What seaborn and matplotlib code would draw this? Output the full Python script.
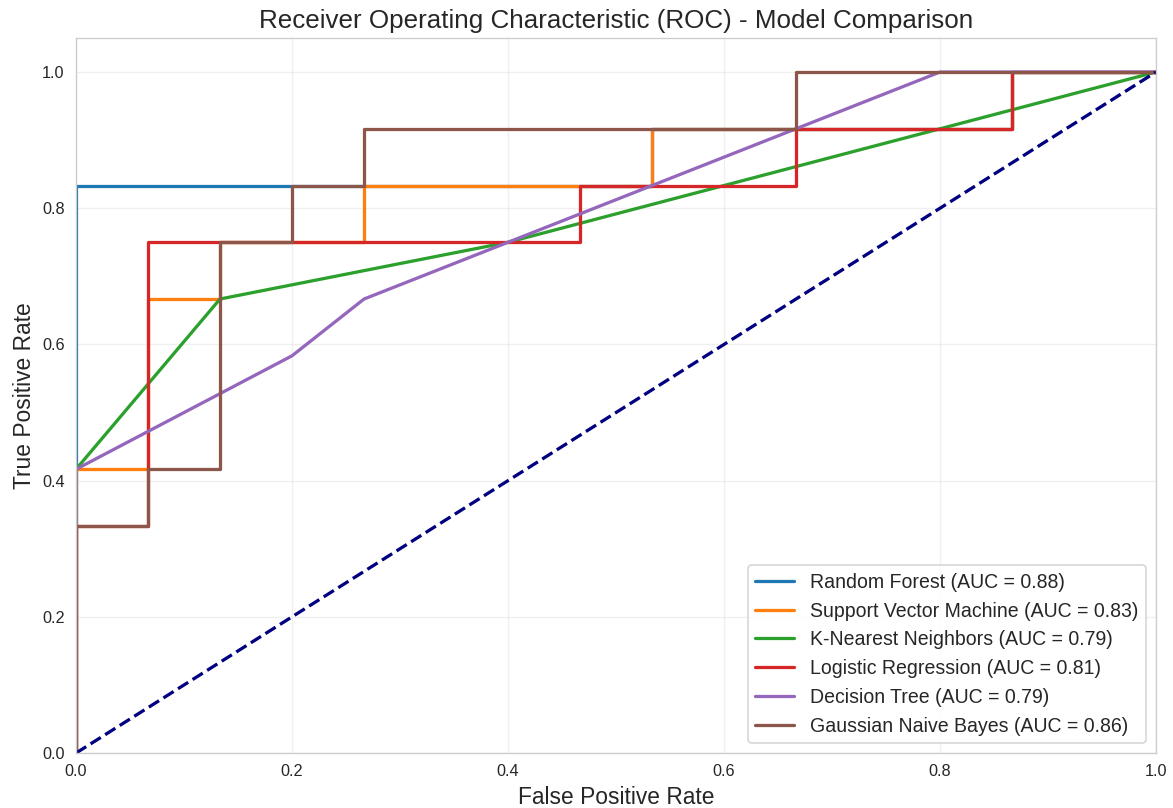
import matplotlib
matplotlib.use("Agg")
import matplotlib.pyplot as plt
import seaborn as sns

# ROC curve points (false positive rate, true positive rate) per model
models = ["Random Forest", "Support Vector Machine", "K-Nearest Neighbors",
          "Logistic Regression", "Decision Tree", "Gaussian Naive Bayes"]
auc_values = [0.88, 0.83, 0.79, 0.81, 0.79, 0.86]

rf_fpr = [0.0, 0.0, 0.5333, 0.5333, 0.8667, 0.8667, 1.0]
rf_tpr = [0.0, 0.8333, 0.8333, 0.9167, 0.9167, 1.0, 1.0]

svm_fpr = [0.0, 0.0, 0.0667, 0.0667, 0.1333, 0.1333, 0.2667, 0.2667, 0.5333, 0.5333, 0.8667, 0.8667, 1.0]
svm_tpr = [0.0, 0.4167, 0.4167, 0.6667, 0.6667, 0.75, 0.75, 0.8333, 0.8333, 0.9167, 0.9167, 1.0, 1.0]

knn_fpr = [0.0, 0.0, 0.1333, 0.4, 1.0]
knn_tpr = [0.0, 0.4167, 0.6667, 0.75, 1.0]

lr_fpr = [0.0, 0.0, 0.0667, 0.0667, 0.4667, 0.4667, 0.6667, 0.6667, 0.8667, 0.8667, 1.0]
lr_tpr = [0.0, 0.3333, 0.3333, 0.75, 0.75, 0.8333, 0.8333, 0.9167, 0.9167, 1.0, 1.0]

dt_fpr = [0.0, 0.0, 0.2, 0.2667, 0.8, 1.0]
dt_tpr = [0.0, 0.4167, 0.5833, 0.6667, 1.0, 1.0]

gnb_fpr = [0.0, 0.0, 0.0667, 0.0667, 0.1333, 0.1333, 0.2, 0.2, 0.2667, 0.2667, 0.6667, 0.6667, 1.0]
gnb_tpr = [0.0, 0.3333, 0.3333, 0.4167, 0.4167, 0.75, 0.75, 0.8333, 0.8333, 0.9167, 0.9167, 1.0, 1.0]

curves = [(rf_fpr, rf_tpr), (svm_fpr, svm_tpr), (knn_fpr, knn_tpr),
          (lr_fpr, lr_tpr), (dt_fpr, dt_tpr), (gnb_fpr, gnb_tpr)]

sns.set_style("whitegrid")
plt.rcParams["font.family"] = ["Liberation Sans", "DejaVu Sans"]

DPI = 117
fig, ax = plt.subplots(figsize=(1173 / DPI, 808 / DPI), dpi=DPI)
fig.subplots_adjust(left=0.0648, right=0.9855, bottom=0.068, top=0.953)

palette = sns.color_palette("tab10")
for i, (name, auc, (fpr, tpr)) in enumerate(zip(models, auc_values, curves)):
    sns.lineplot(x=fpr, y=tpr, ax=ax, sort=False, estimator=None,
                 color=palette[i], lw=2, label=f"{name} (AUC = {auc:.2f})")

ax.plot([0, 1], [0, 1], color="navy", lw=2, linestyle="--")

ax.set_xlim(0.0, 1.0)
ax.set_ylim(0.0, 1.05)
ax.set_xlabel("False Positive Rate", fontsize=14)
ax.set_ylabel("True Positive Rate", fontsize=14)
ax.set_title("Receiver Operating Characteristic (ROC) - Model Comparison", fontsize=16)
ax.tick_params(labelsize=10)
ax.grid(True, alpha=0.3)
ax.legend(loc="lower right", fontsize=12)

fig.savefig("out.png", dpi=DPI)
